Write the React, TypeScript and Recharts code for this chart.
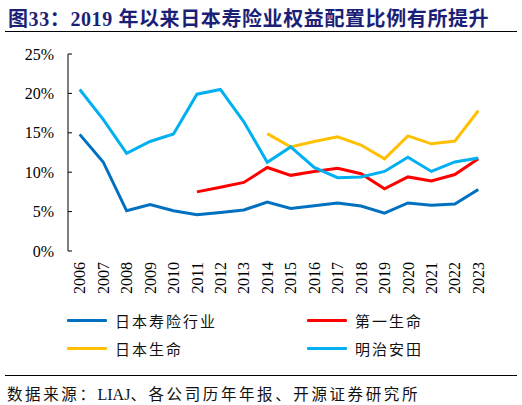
import { Line, LineChart, XAxis, YAxis } from "recharts";

const years = [
  "2006", "2007", "2008", "2009", "2010", "2011", "2012", "2013", "2014",
  "2015", "2016", "2017", "2018", "2019", "2020", "2021", "2022", "2023",
];
const industry = [
  14.8, 11.3, 5.1, 5.9, 5.1, 4.6, 4.9, 5.2, 6.2, 5.4, 5.75, 6.1, 5.7, 4.8, 6.1,
  5.8, 5.95, 7.8,
];
const daiichi = [
  null, null, null, null, null, 7.5, 8.1, 8.7, 10.6, 9.6, 10.1, 10.5, 9.8, 7.9,
  9.4, 8.9, 9.7, 11.7,
];
const nissay = [
  null, null, null, null, null, null, null, null, 14.9, 13.2, 13.9, 14.5, 13.45,
  11.7, 14.6, 13.6, 13.95, 17.8,
];
const meiji = [
  20.5, 16.7, 12.4, 13.9, 14.85, 19.9, 20.5, 16.4, 11.25, 13.2, 10.6, 9.3, 9.4,
  10.1, 11.9, 10.1, 11.3, 11.8,
];
const yTicks = [0, 5, 10, 15, 20, 25];

const series = [
  { key: "industry", name: "日本寿险行业", color: "#0070C0" },
  { key: "daiichi", name: "第一生命", color: "#FF0000" },
  { key: "nissay", name: "日本生命", color: "#FFC000" },
  { key: "meiji", name: "明治安田", color: "#00B0F0" },
];

const data = years.map((year, i) => ({
  year,
  pos: i + 0.5,
  industry: industry[i],
  daiichi: daiichi[i],
  nissay: nissay[i],
  meiji: meiji[i],
}));

const centerTicks = years.map((_, i) => i + 0.5);
const edgeTicks = [...years.map((_, i) => i), years.length];

const serif = '"Liberation Serif", "Times New Roman", "Noto Sans CJK SC", serif';

const YearTick = (props: any) => {
  const { x, y, payload } = props;
  const label = years[Math.floor(payload.value)];
  return (
    <text
      transform={`translate(${x},${y}) rotate(-90)`}
      textAnchor="end"
      dy="0.35em"
      fontSize={16}
      fontFamily={serif}
      fill="#000"
    >
      {label}
    </text>
  );
};

const App = () => {
  return (
    <div
      style={{
        position: "absolute",
        left: 0,
        top: 0,
        width: 522,
        height: 405,
        background: "#fff",
        fontFamily: serif,
      }}
    >
      <div
        style={{
          position: "absolute",
          left: 8,
          top: 3,
          fontSize: 20,
          fontWeight: "bold",
          color: "#1C1F78",
          letterSpacing: 0.6,
          whiteSpace: "nowrap",
        }}
      >
        图33：2019 年以来日本寿险业权益配置比例有所提升
      </div>
      <div
        style={{
          position: "absolute",
          left: 5,
          top: 31,
          width: 512,
          height: 1,
          background: "#000",
        }}
      />

      <div style={{ position: "absolute", left: 0, top: 0 }}>
        <LineChart
          width={522}
          height={305}
          data={data}
          margin={{ top: 54, right: 32, left: 0, bottom: 0 }}
        >
          <XAxis
            xAxisId="frame"
            type="number"
            dataKey="pos"
            domain={[0, years.length]}
            ticks={edgeTicks}
            height={0}
            tick={false}
            tickSize={-4}
            axisLine={{ stroke: "#000" }}
            tickLine={{ stroke: "#000" }}
          />
          <XAxis
            xAxisId="main"
            type="number"
            dataKey="pos"
            domain={[0, years.length]}
            ticks={centerTicks}
            interval={0}
            height={54}
            tickSize={0}
            tickMargin={11}
            axisLine={false}
            tickLine={false}
            tick={<YearTick />}
          />
          <YAxis
            domain={[0, 25]}
            ticks={yTicks}
            width={68}
            tickSize={-4}
            tickMargin={18}
            tickFormatter={(v) => `${v}%`}
            axisLine={{ stroke: "#000" }}
            tickLine={{ stroke: "#000" }}
            tick={{ fontSize: 16, fontFamily: serif, fill: "#000" }}
            interval={0}
          />
          {series.map((s) => (
            <Line
              key={s.key}
              xAxisId="main"
              type="linear"
              dataKey={s.key}
              name={s.name}
              stroke={s.color}
              strokeWidth={3}
              dot={false}
              activeDot={false}
              isAnimationActive={false}
            />
          ))}
        </LineChart>
      </div>

      {series.map((s, i) => (
        <div
          key={s.key}
          style={{
            position: "absolute",
            left: i % 2 === 0 ? 67 : 307,
            top: i < 2 ? 309 : 337,
            height: 22,
            display: "flex",
            alignItems: "center",
            whiteSpace: "nowrap",
          }}
        >
          <div style={{ width: 40, height: 3, background: s.color, borderRadius: 1 }} />
          <span
            style={{
              marginLeft: 8,
              fontSize: 15,
              letterSpacing: 2,
              color: "#111",
            }}
          >
            {s.name}
          </span>
        </div>
      ))}

      <div
        style={{
          position: "absolute",
          left: 5,
          top: 375,
          width: 512,
          height: 1,
          background: "#000",
        }}
      />
      <div
        style={{
          position: "absolute",
          left: 7,
          top: 382,
          fontSize: 15.5,
          color: "#111",
          whiteSpace: "nowrap",
        }}
      >
        <span style={{ letterSpacing: 2.6 }}>数据来源：</span>
        <span style={{ fontSize: 16 }}>LIAJ</span>
        <span style={{ letterSpacing: 2.6 }}>、各公司历年年报、开源证券研究所</span>
      </div>
    </div>
  );
};

export default App;
